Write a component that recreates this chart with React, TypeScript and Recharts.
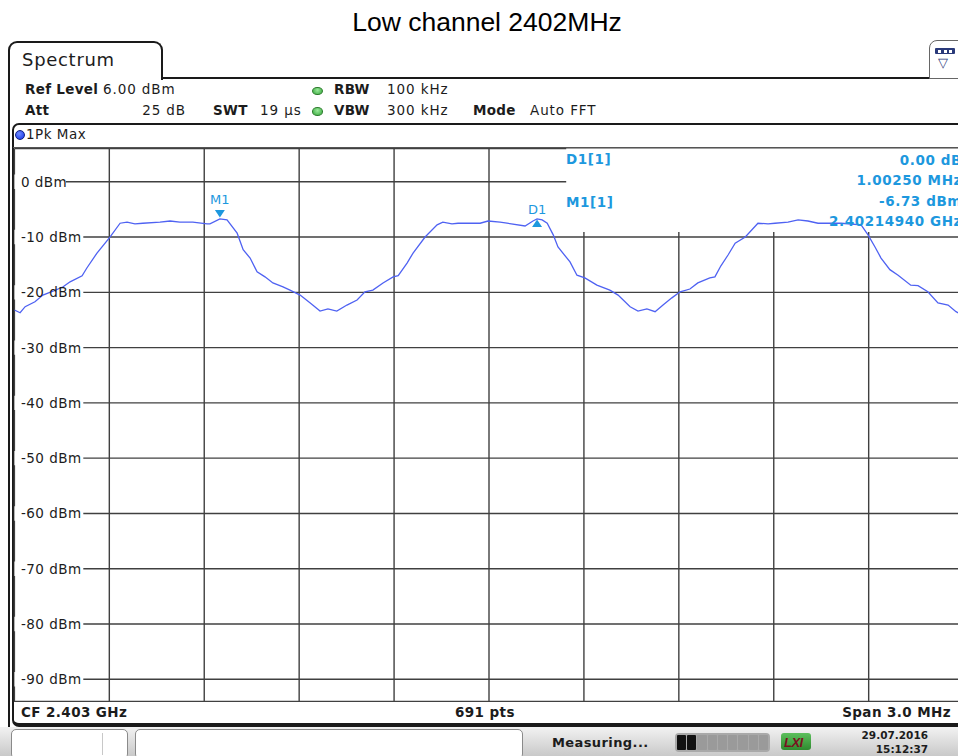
import React from 'react';
import { LineChart, Line, XAxis, YAxis, CartesianGrid, ReferenceArea, ReferenceDot } from 'recharts';

// trace: frequency (MHz) / level (dBm)
const freqMHz = [
  2401.5, 2401.518, 2401.534, 2401.565, 2401.59, 2401.622, 2401.654, 2401.676, 2401.714, 2401.729,
  2401.761, 2401.802, 2401.834, 2401.856, 2401.881, 2401.906, 2401.96, 2401.992, 2402.023, 2402.064,
  2402.109, 2402.118, 2402.1494, 2402.172, 2402.204, 2402.223, 2402.245, 2402.267, 2402.292, 2402.317,
  2402.349, 2402.371, 2402.403, 2402.434, 2402.466, 2402.491, 2402.519, 2402.551, 2402.583, 2402.608,
  2402.633, 2402.665, 2402.697, 2402.713, 2402.741, 2402.76, 2402.798, 2402.836, 2402.854, 2402.883,
  2402.902, 2402.972, 2402.997, 2403.035, 2403.057, 2403.114, 2403.139, 2403.1519, 2403.168, 2403.184,
  2403.203, 2403.218, 2403.256, 2403.278, 2403.303, 2403.341, 2403.382, 2403.408, 2403.446, 2403.471,
  2403.499, 2403.525, 2403.55, 2403.578, 2403.604, 2403.635, 2403.66, 2403.698, 2403.714, 2403.733,
  2403.756, 2403.778, 2403.81, 2403.85, 2403.882, 2403.904, 2403.945, 2403.977, 2404.008, 2404.04,
  2404.113, 2404.176, 2404.198, 2404.22, 2404.239, 2404.267, 2404.293, 2404.333, 2404.356, 2404.387,
  2404.419, 2404.451, 2404.476, 2404.5,
];
const levelDbm = [
  -23.2, -23.7, -22.6, -21.7, -20.5, -19.8, -19.0, -18.1, -17.0, -15.6,
  -12.9, -10.0, -7.5, -7.3, -7.6, -7.5, -7.3, -7.1, -7.3, -7.3,
  -7.6, -7.6, -6.73, -6.9, -9.3, -12.3, -13.8, -16.3, -17.2, -18.3,
  -19.0, -19.6, -20.5, -21.9, -23.4, -23.0, -23.4, -22.3, -21.4, -19.9,
  -19.6, -18.3, -17.2, -17.0, -14.7, -12.9, -10.0, -7.8, -7.3, -7.6,
  -7.5, -7.5, -7.1, -7.3, -7.5, -8.0, -7.1, -6.73, -6.9, -7.5,
  -9.6, -11.8, -14.5, -16.9, -17.4, -18.7, -19.6, -20.5, -22.6, -23.4,
  -23.0, -23.5, -22.3, -21.0, -19.9, -19.4, -18.3, -17.4, -17.2, -15.2,
  -13.2, -11.1, -10.0, -7.5, -7.6, -7.5, -7.3, -6.9, -7.1, -7.5,
  -7.5, -7.8, -9.6, -11.8, -13.8, -15.9, -16.9, -18.7, -18.8, -19.9,
  -21.9, -22.3, -23.5, -24.2,
];

const xTicks = [2401.5, 2401.8, 2402.1, 2402.4, 2402.7, 2403.0, 2403.3, 2403.6, 2403.9, 2404.2, 2404.5];
const yTicks = [0, -10, -20, -30, -40, -50, -60, -70, -80, -90];
const xDomain = [2401.5, 2404.5];
const yDomain = [-94, 6];

const markerM1 = { freq: 2402.1494, level: -6.73 };
const markerD1 = { freq: 2403.1519, level: -6.73 };
// marker info panel hides the grid in the upper right corner
const infoPanel = { fromFreq: 2403.244, toFreq: 2404.5, fromLevel: -9.1, toLevel: 6 };

const data = freqMHz.map((f, i) => ({ f, level: levelDbm[i] }));

const PLOT_LEFT = 14.4;
const PLOT_WIDTH = 949.2;
const FONT = '"DejaVu Sans", Verdana, sans-serif';
const INK = '#1c1c1c';
const MARKER_BLUE = '#1d98de';

const dbmLabel = (v: number) => `${v} dBm`;
// gap in the grid line behind each level label, in MHz from the left edge
const labelGap = (v: number) => ((dbmLabel(v).length * 8.7 + 8) / PLOT_WIDTH) * (xDomain[1] - xDomain[0]);

const DbmTick = (props: any) => {
  const { y, payload } = props;
  return (
    <text x={PLOT_LEFT + 6.5} y={y + 5} fontSize={13.5} fill={INK} fontFamily={FONT} letterSpacing={0.5}>
      {dbmLabel(payload.value)}
    </text>
  );
};

const NoTick = () => <g />;

const M1Shape = (props: any) => {
  const { cx, cy } = props;
  return (
    <g>
      <polygon points={`${cx - 5},${cy - 9} ${cx + 5},${cy - 9} ${cx},${cy - 1.5}`} fill={MARKER_BLUE} />
      <text x={cx} y={cy - 15} textAnchor="middle" fontSize={13} fill={MARKER_BLUE} fontFamily={FONT}>M1</text>
    </g>
  );
};

const D1Shape = (props: any) => {
  const { cx, cy } = props;
  return (
    <g>
      <polygon points={`${cx - 5},${cy + 8} ${cx + 5},${cy + 8} ${cx},${cy + 0.5}`} fill={MARKER_BLUE} />
      <text x={cx} y={cy - 5} textAnchor="middle" fontSize={13} fill={MARKER_BLUE} fontFamily={FONT}>D1</text>
    </g>
  );
};

type TProps = {
  x: number;
  y: number;
  children: React.ReactNode;
  bold?: boolean;
  size?: number;
  color?: string;
  ls?: number;
  right?: boolean;
  family?: string;
};

const T = ({ x, y, children, bold, size = 13.5, color = INK, ls = 0.5, right, family = FONT }: TProps) => (
  <div
    style={{
      position: 'absolute',
      top: y,
      ...(right ? { right: 958 - x } : { left: x }),
      transform: 'translateY(-50%)',
      fontFamily: family,
      fontSize: size,
      fontWeight: bold ? 'bold' : 'normal',
      color,
      letterSpacing: ls,
      lineHeight: 1,
      whiteSpace: 'nowrap',
      zIndex: 3,
    }}
  >
    {children}
  </div>
);

const box = (s: React.CSSProperties): React.CSSProperties => ({ position: 'absolute', boxSizing: 'border-box', ...s });

const App = () => {
  return (
    <div style={{ position: 'fixed', left: 0, top: 0, width: 958, height: 756, overflow: 'hidden', background: '#fff' }}>
      <div
        style={{
          position: 'absolute', left: 0, top: 6, width: 974, textAlign: 'center',
          fontFamily: '"Liberation Sans", Arial, sans-serif', fontSize: 26.5, lineHeight: '32px', color: '#000',
        }}
      >
        Low channel 2402MHz
      </div>

      {/* screen frame */}
      <div style={box({ left: 8, top: 41, width: 155, height: 39, border: '2px solid #1a1a1a', borderBottom: 'none', borderRadius: '9px 9px 0 0', background: '#fff' })} />
      <div style={box({ left: 161, top: 77, width: 800, height: 2, background: '#1a1a1a' })} />
      <div style={box({ left: 8, top: 78, width: 2, height: 650, background: '#1a1a1a' })} />
      <div style={box({ left: 929, top: 40, width: 40, height: 39, border: '1.5px solid #666', borderRadius: '8px 0 0 0', background: '#fff' })} />
      <div style={box({ left: 935, top: 48, width: 20, height: 6, background: '#2a3a7a', borderRadius: 1 })} />
      <div style={box({ left: 938, top: 49.5, width: 3, height: 3, background: '#fff' })} />
      <div style={box({ left: 943.5, top: 49.5, width: 3, height: 3, background: '#fff' })} />
      <div style={box({ left: 949, top: 49.5, width: 3, height: 3, background: '#fff' })} />
      <T x={938} y={62} size={13} color="#2a3a7a" ls={0}>▽</T>
      <T x={22} y={60} size={18} ls={0.7}>Spectrum</T>

      {/* setting rows */}
      <T x={25} y={90} bold ls={0.3}>Ref Level</T>
      <T x={103} y={90} ls={0.9}>6.00 dBm</T>
      <T x={25} y={111} bold ls={0.3}>Att</T>
      <T x={186} y={111} ls={0.9} right>25 dB</T>
      <T x={213} y={111} bold ls={0.3}>SWT</T>
      <T x={260} y={111} ls={0.9}>19 µs</T>
      <div style={box({ left: 311.5, top: 86.5, width: 11, height: 8.5, borderRadius: '50%', border: '1px solid #2a7a2a', background: 'radial-gradient(circle at 50% 35%, #9be89b, #34a83a)' })} />
      <div style={box({ left: 311.5, top: 107, width: 11, height: 8.5, borderRadius: '50%', border: '1px solid #2a7a2a', background: 'radial-gradient(circle at 50% 35%, #9be89b, #34a83a)' })} />
      <T x={334} y={90} bold ls={0.3}>RBW</T>
      <T x={387} y={90} ls={0.9}>100 kHz</T>
      <T x={334} y={111} bold ls={0.3}>VBW</T>
      <T x={387} y={111} ls={0.9}>300 kHz</T>
      <T x={473} y={111} bold ls={0.3}>Mode</T>
      <T x={530} y={111} ls={0.9}>Auto FFT</T>

      {/* trace window */}
      <div style={box({ left: 11.5, top: 123, width: 960, height: 604, border: '2px solid #1a1a1a', borderBottomWidth: 4, borderRadius: '7px 0 0 7px' })} />
      <div style={box({ left: 13, top: 147, width: 950, height: 1.3, background: '#555' })} />
      <div style={box({ left: 14, top: 700.8, width: 950, height: 1.4, background: '#404040' })} />
      <div style={box({ left: 15, top: 130, width: 10, height: 10, borderRadius: '50%', border: '1px solid #102080', background: 'radial-gradient(circle at 40% 35%, #6f8bff, #1030e8)' })} />
      <T x={26} y={135} ls={0.5}>1Pk Max</T>

      <div style={{ position: 'absolute', left: 0, top: 0, zIndex: 2 }}>
        <LineChart
          width={1000}
          height={720}
          data={data}
          margin={{ top: 148.6, left: PLOT_LEFT, right: 36.4, bottom: 18.6 }}
        >
          <CartesianGrid stroke="#404040" strokeWidth={1.4} />
          {yTicks.map(v => (
            <ReferenceArea
              key={v}
              x1={xDomain[0]}
              x2={xDomain[0] + labelGap(v)}
              y1={v - 1.3}
              y2={v + 1.3}
              fill="#fff"
              fillOpacity={1}
              stroke="none"
            />
          ))}
          <ReferenceArea
            x1={infoPanel.fromFreq}
            x2={infoPanel.toFreq}
            y1={infoPanel.fromLevel}
            y2={infoPanel.toLevel}
            fill="#fff"
            fillOpacity={1}
            stroke="none"
          />
          <XAxis
            type="number"
            dataKey="f"
            domain={xDomain}
            ticks={xTicks}
            allowDataOverflow
            height={0}
            axisLine={false}
            tickLine={false}
            tick={NoTick}
          />
          <YAxis
            type="number"
            domain={yDomain}
            ticks={yTicks}
            allowDataOverflow
            mirror
            axisLine={false}
            tickLine={false}
            tick={<DbmTick />}
          />
          <Line
            type="linear"
            dataKey="level"
            stroke="#4f62f2"
            strokeWidth={1.3}
            dot={false}
            isAnimationActive={false}
          />
          <ReferenceDot x={markerM1.freq} y={markerM1.level} shape={<M1Shape />} />
          <ReferenceDot x={markerD1.freq} y={markerD1.level} shape={<D1Shape />} />
        </LineChart>
      </div>

      {/* marker readout */}
      <T x={566} y={160} bold color={MARKER_BLUE} ls={0.6}>D1[1]</T>
      <T x={566} y={202.5} bold color={MARKER_BLUE} ls={0.6}>M1[1]</T>
      <T x={962} y={160.5} bold color={MARKER_BLUE} ls={0.6} right>0.00 dB</T>
      <T x={962} y={181} bold color={MARKER_BLUE} ls={0.6} right>1.00250 MHz</T>
      <T x={962} y={201.5} bold color={MARKER_BLUE} ls={0.6} right>-6.73 dBm</T>
      <T x={962} y={222} bold color={MARKER_BLUE} ls={0.6} right>2.40214940 GHz</T>

      {/* footer row */}
      <T x={21} y={712.5} bold ls={0.4}>CF 2.403 GHz</T>
      <T x={455} y={712.5} bold ls={0.4}>691 pts</T>
      <T x={951} y={712.5} bold ls={0.4} right>Span 3.0 MHz</T>

      {/* status bar */}
      <div style={box({ left: 0, top: 727, width: 958, height: 29, background: 'linear-gradient(#f2f2f2, #c9c9c9)' })} />
      <div style={box({ left: 11, top: 729, width: 117, height: 30, border: '1px solid #8a8a8a', borderRadius: 5, background: '#fff', zIndex: 1 })} />
      <div style={box({ left: 101.5, top: 733, width: 1, height: 22, background: '#c8c8c8', zIndex: 1 })} />
      <div style={box({ left: 135, top: 729, width: 388, height: 30, border: '1px solid #8a8a8a', borderRadius: 5, background: '#fff', zIndex: 1 })} />
      <T x={552} y={742} bold size={13} ls={0.4}>Measuring...</T>
      <div style={box({ left: 675, top: 733, width: 95, height: 19, borderRadius: 4, background: '#a9a9a9', display: 'flex', padding: '2px 2px', gap: 1, overflow: 'hidden', zIndex: 1 })}>
        {[0, 1, 2, 3, 4, 5, 6, 7, 8].map(i => (
          <div key={i} style={{ flex: 1, background: i < 2 ? '#111' : '#9a9a9a', borderRadius: 1 }} />
        ))}
      </div>
      <div style={box({ left: 781, top: 733, width: 30, height: 17, borderRadius: 3, background: 'linear-gradient(#5cbf5c, #2f8a2f)', zIndex: 1 })} />
      <T x={784} y={741.5} bold size={13} color="#7a1020" ls={-0.5} family='"Liberation Sans", Arial, sans-serif'>
        <i>LXI</i>
      </T>
      <T x={928} y={735} bold size={10.5} ls={0} right>29.07.2016</T>
      <T x={928} y={749} bold size={10.5} ls={0} right>15:12:37</T>
    </div>
  );
};

export default App;
